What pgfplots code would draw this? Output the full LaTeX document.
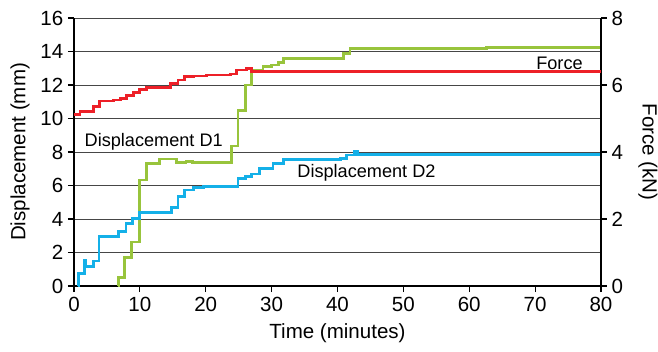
\documentclass[border=0pt]{standalone}
\usepackage{pgfplots}
\pgfplotsset{compat=1.18}
\usepackage{fontspec}
\setmainfont{Liberation Sans}
\definecolor{cred}{RGB}{237,32,40}
\definecolor{cgreen}{RGB}{152,196,60}
\definecolor{cblue}{RGB}{20,176,232}
\definecolor{cgrid}{RGB}{70,70,70}
\begin{document}
\begin{tikzpicture}
\useasboundingbox (-55.5pt,-48.75pt) rectangle (438pt,214.5pt);
\pgfplotsset{
  base/.style={
    scale only axis, width=395.25pt, height=201pt,
    at={(0,0)}, anchor=south west,
    xmin=0, xmax=80,
    tick align=outside, major tick length=4.5pt,
    tick style={black, line width=0.8pt},
    /pgf/number format/assume math mode=true,
    tick label style={font=\fontsize{15.4}{18}\selectfont},
  }
}
\begin{axis}[base,
  ymin=0, ymax=16,
  axis x line*=bottom, axis y line*=left,
  axis line style={line width=1.3pt, -},
  x axis line style={line width=0.9pt},
  xtick={0,10,...,80}, ytick={0,2,...,16},
  ymajorgrids, grid style={cgrid, line width=0.75pt},
  xlabel={Time (minutes)}, ylabel={Displacement (mm)},
  every axis x label/.style={at={([yshift=-35.25pt]axis description cs:0.5,0)}, anchor=center, font=\fontsize{15.4}{18}\selectfont},
  every axis y label/.style={at={([xshift=-40.5pt]axis description cs:0,0.5)}, anchor=center, rotate=90, font=\fontsize{15.4}{18}\selectfont},
  const plot mark left,
]
\addplot[const plot, cgreen, line width=2.1pt] coordinates {
(6.7,0) (6.75,0.5) (7.7,1.71) (8.7,2.63) (10.0,6.33) (11.0,7.32) (13.0,7.58)
(15.6,7.38) (17,7.45) (18,7.38) (23.9,8.36) (24.9,10.5) (26.0,12.0) (27.0,12.85)
(28.7,13.1) (30,13.2) (31,13.33) (31.8,13.6) (40.9,13.9) (41.9,14.2) (62.6,14.25) (80,14.3)
};
\addplot[const plot, cblue, line width=2.1pt] coordinates {
(0.6,0) (0.65,0.76) (1.6,1.5) (1.75,1.15) (2.9,1.49) (3.8,2.94) (6.7,3.24) (7.9,3.74)
(8.9,4.04) (10.0,4.4) (14.8,4.7) (15.8,5.33) (16.8,5.73) (18.1,5.89) (19.6,5.93)
(24.9,6.43) (26,6.53) (26.9,6.69) (28.2,7.0) (30.2,7.33) (31.8,7.56) (40.4,7.62)
(41.4,7.82) (42.6,8.02) (43,7.85) (80,7.88)
};
\node[font=\fontsize{13.6}{16}\selectfont] at (axis cs:12.1,8.6) {Displacement D1};
\node[font=\fontsize{13.6}{16}\selectfont] at (axis cs:44.4,6.75) {Displacement D2};
\node[font=\fontsize{13.6}{16}\selectfont] at (axis cs:73.7,13.3) {Force};
\end{axis}
\begin{axis}[base,
  ymin=0, ymax=8,
  axis x line=none, axis y line*=right,
  axis line style={line width=1.3pt, -},
  ytick={0,2,...,8},
  ylabel={Force (kN)},
  every axis y label/.style={at={([xshift=35.25pt]axis description cs:1,0.5)}, anchor=center, rotate=-90, font=\fontsize{15.4}{18}\selectfont},
]
\addplot[const plot mark left, cred, line width=2.1pt] coordinates {
(0,5.13) (0.9,5.22) (2.9,5.37) (3.9,5.52) (6,5.55) (7,5.6) (8,5.68) (9,5.77)
(10,5.87) (11,5.92) (13.6,5.93) (14.6,6.05) (15.8,6.15) (16.8,6.25) (18.1,6.27)
(20.1,6.3) (23.7,6.33) (24.7,6.45) (26.2,6.5) (27,6.4) (80,6.4)
};
\end{axis}
\end{tikzpicture}
\end{document}
